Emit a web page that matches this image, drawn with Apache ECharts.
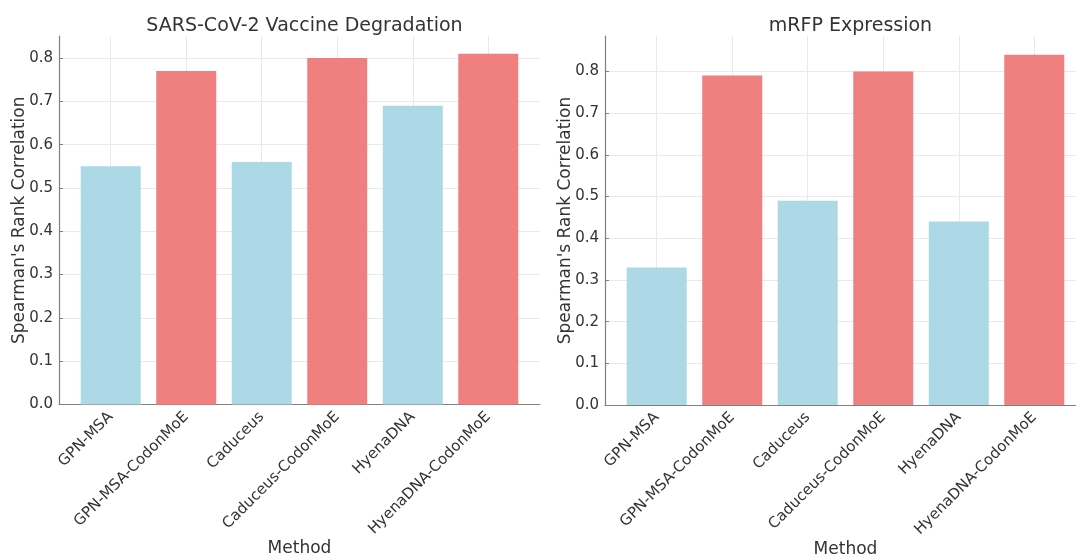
<!DOCTYPE html>
<html>
<head>
<meta charset="utf-8">
<script src="https://cdn.jsdelivr.net/npm/echarts@6/dist/echarts.min.js"></script>
<style>html,body{margin:0;padding:0;background:#fff}#c{width:1076px;height:557px}</style>
</head>
<body>
<div id="c"></div>
<script>
const categories = ['GPN-MSA', 'GPN-MSA-CodonMoE', 'Caduceus', 'Caduceus-CodonMoE', 'HyenaDNA', 'HyenaDNA-CodonMoE'];
const sarsValues = [0.55, 0.77, 0.56, 0.80, 0.69, 0.81];
const mrfpValues = [0.33, 0.79, 0.49, 0.80, 0.44, 0.84];
const yTicks = [0.0, 0.1, 0.2, 0.3, 0.4, 0.5, 0.6, 0.7, 0.8];
const barColors = ['#ADD8E6', '#F08080', '#ADD8E6', '#F08080', '#ADD8E6', '#F08080'];
const titles = ['SARS-CoV-2 Vaccine Degradation', 'mRFP Expression'];

const FONT = 'DejaVu Sans';
const TXT = '#333333';
const catIdx = categories.map((_, i) => i);

const grids = [
  { left: 59, top: 36, width: 481, height: 368.5, outerBoundsMode: 'none', containLabel: false },
  { left: 605, top: 36, width: 481, height: 369, outerBoundsMode: 'none', containLabel: false }
];
const yMax = [0.851, 0.885];

function xAxisFor(g) {
  return {
    type: 'value', gridIndex: g, min: -0.685, max: 5.685,
    name: 'Method', nameLocation: 'middle', nameGap: 136, nameMoveOverlap: false,
    nameTextStyle: { fontFamily: FONT, fontSize: 17, color: TXT },
    axisLine: { show: true, onZero: false, lineStyle: { color: '#808080', width: 1.2 } },
    axisTick: { show: true, inside: true, customValues: catIdx, length: 4, lineStyle: { color: '#808080' } },
    axisLabel: {
      customValues: catIdx, rotate: 45, fontFamily: FONT, fontSize: 15, color: TXT, margin: 10,
      formatter: v => categories[Math.round(v)]
    },
    splitLine: { show: true, lineStyle: { color: '#e9e9e9', width: 1 } }
  };
}
function yAxisFor(g) {
  return {
    type: 'value', gridIndex: g, min: 0, max: yMax[g],
    name: "Spearman's Rank Correlation", nameLocation: 'middle', nameGap: 31, nameMoveOverlap: false,
    nameTextStyle: { fontFamily: FONT, fontSize: 17, color: TXT },
    axisLine: { show: true, onZero: false, lineStyle: { color: '#808080', width: 1.2 } },
    axisTick: { show: true, inside: true, customValues: yTicks, length: 4, lineStyle: { color: '#808080' } },
    axisLabel: { customValues: yTicks, fontFamily: FONT, fontSize: 15, color: TXT, margin: 6,
      formatter: v => v.toFixed(1) },
    splitLine: { show: true, lineStyle: { color: '#e9e9e9', width: 1 } }
  };
}
function seriesFor(g, vals) {
  return {
    type: 'bar', xAxisIndex: g, yAxisIndex: g, barWidth: 60,
    data: vals.map((v, i) => ({ value: [i, v], itemStyle: { color: barColors[i] } })),
    silent: true, animation: false
  };
}

const chart = echarts.init(document.getElementById('c'), null, { renderer: 'canvas' });
chart.setOption({
  animation: false,
  backgroundColor: '#ffffff',
  title: [
    { text: titles[0], left: 299.5, top: 12, textAlign: 'center',
      textStyle: { fontFamily: FONT, fontSize: 19, fontWeight: 'normal', color: TXT } },
    { text: titles[1], left: 845.5, top: 12, textAlign: 'center',
      textStyle: { fontFamily: FONT, fontSize: 19, fontWeight: 'normal', color: TXT } }
  ],
  grid: grids,
  xAxis: [xAxisFor(0), xAxisFor(1)],
  yAxis: [yAxisFor(0), yAxisFor(1)],
  series: [seriesFor(0, sarsValues), seriesFor(1, mrfpValues)]
});
</script>
</body>
</html>
